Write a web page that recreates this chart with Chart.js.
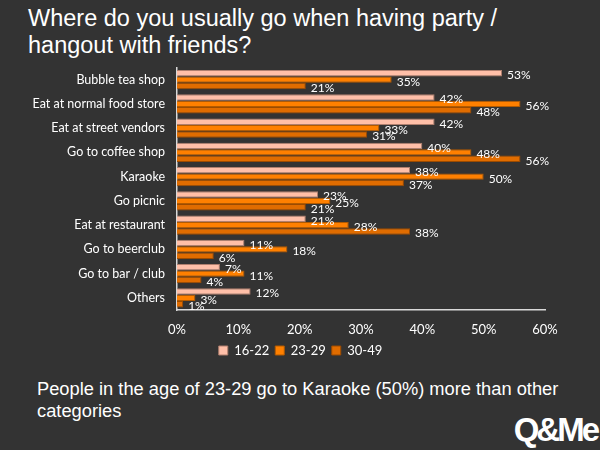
<!DOCTYPE html>
<html>
<head>
<meta charset="utf-8">
<script src="https://cdn.jsdelivr.net/npm/chart.js@4/dist/chart.umd.min.js"></script>
<style>
    html, body { margin: 0; padding: 0; background: #333333; }
    #wrap { position: relative; width: 600px; height: 450px; background: #333333; overflow: hidden; }
    #title { position: absolute; left: 28px; top: 5px; color: #fff; font: 23.5px "Liberation Sans", Arial, sans-serif; line-height: 27px; }
    #chartBox { position: absolute; left: 0; top: 48px; width: 600px; height: 329px; }
    #note { position: absolute; left: 37px; top: 378px; color: #fff; font: 18.3px "Liberation Sans", Arial, sans-serif; line-height: 22px; width: 560px; }
    #logo { position: absolute; right: 3px; bottom: 1px; color: #fff; font: bold 33px "Liberation Sans", Arial, sans-serif; letter-spacing: -3px; }
</style>
</head>
<body>
<div id="wrap">
    <div id="title">Where do you usually go when having party /<br>hangout with friends?</div>
    <div id="chartBox"><canvas id="myChart"></canvas></div>
    <div id="note">People in the age of 23-29 go to Karaoke (50%) more than other categories</div>
    <div id="logo">Q&amp;Me</div>
</div>
<script>
const categories = ['Bubble tea shop', 'Eat at normal food store', 'Eat at street vendors', 'Go to coffee shop', 'Karaoke',
    'Go picnic', 'Eat at restaurant', 'Go to beerclub', 'Go to bar / club', 'Others'];
const age1622 = [53, 42, 42, 40, 38, 23, 21, 11, 7, 12];
const age2329 = [35, 56, 33, 48, 50, 25, 28, 18, 11, 3];
const age3049 = [21, 48, 31, 56, 37, 21, 38, 6, 4, 1];
const xTicks = [0, 10, 20, 30, 40, 50, 60];

const labelFont = '12px Lato, "Noto Sans", sans-serif';

// value labels at the end of each bar, legend nudged to page center
const barLabels = {
    id: 'barLabels',
    afterLayout(chart) {
        chart.legend.left += 28;
        chart.legend.right += 28;
    },
    afterDatasetsDraw(chart) {
        const c = chart.ctx;
        c.save();
        c.font = labelFont;
        c.fillStyle = '#ffffff';
        c.textAlign = 'left';
        c.textBaseline = 'middle';
        chart.data.datasets.forEach(function (ds, i) {
            chart.getDatasetMeta(i).data.forEach(function (bar, j) {
                c.fillText(ds.data[j] + '%', bar.x + 5, bar.y + 2);
            });
        });
        c.restore();
    }
};

new Chart(document.getElementById('myChart'), {
    type: 'bar',
    data: {
        labels: categories,
        datasets: [
            {label: '16-22', data: age1622, backgroundColor: '#ffbfa8', borderColor: '#b07f6e', borderWidth: 1, borderSkipped: 'left'},
            {label: '23-29', data: age2329, backgroundColor: '#ff8000', borderColor: '#b35a00', borderWidth: 1, borderSkipped: 'left'},
            {label: '30-49', data: age3049, backgroundColor: '#e06c00', borderColor: '#9c4b00', borderWidth: 1, borderSkipped: 'left'}
        ]
    },
    options: {
        indexAxis: 'y',
        responsive: true,
        maintainAspectRatio: false,
        animation: false,
        layout: {padding: {left: 0, right: 55, top: 9, bottom: 10}},
        datasets: {bar: {categoryPercentage: 0.8, barPercentage: 1.0}},
        scales: {
            x: {
                min: 0, max: 60,
                afterBuildTicks: function (s) { s.ticks = xTicks.map(function (v) { return {value: v}; }); },
                grid: {display: false, drawTicks: false},
                border: {display: true, color: '#d9d9d9', width: 1.5},
                ticks: {color: '#ffffff', font: {family: 'Lato', size: 13}, padding: 12,
                    callback: function (v) { return v + '%'; }},
                afterFit: function (s) { s.height = 28; }
            },
            y: {
                grid: {display: false, drawTicks: false},
                border: {display: true, color: '#d9d9d9', width: 1.5},
                ticks: {color: '#ffffff', font: {family: 'Lato', size: 12.5}, padding: 12},
                afterFit: function (s) { s.width = 177; }
            }
        },
        plugins: {
            legend: {
                position: 'bottom',
                labels: {color: '#ffffff', font: {family: 'Lato', size: 13}, boxWidth: 9, boxHeight: 9, padding: 6}
            },
            tooltip: {enabled: false}
        }
    },
    plugins: [barLabels]
});
</script>
</body>
</html>
